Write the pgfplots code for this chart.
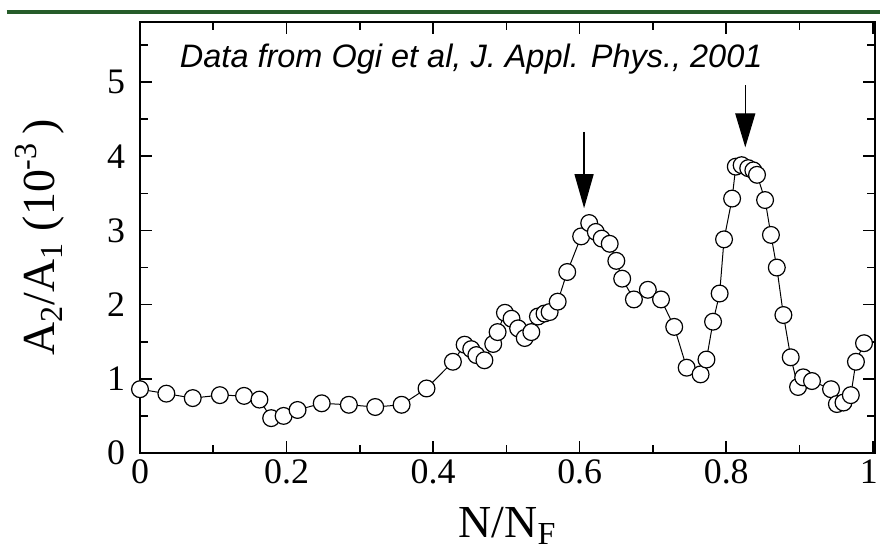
\documentclass[border=0pt]{standalone}
\usepackage{fontspec}
\setmainfont{Liberation Serif}
\newfontfamily\arial{Liberation Sans}
\usepackage{pgfplots}
\pgfplotsset{compat=1.18}
\usetikzlibrary{arrows.meta}
\definecolor{slidegreen}{RGB}{38,92,42}

\pgfplotstableread{
x y
0.000 0.86
0.036 0.80
0.072 0.74
0.109 0.78
0.142 0.77
0.163 0.72
0.179 0.47
0.196 0.50
0.215 0.58
0.248 0.67
0.285 0.65
0.321 0.62
0.357 0.65
0.391 0.87
0.427 1.23
0.443 1.46
0.452 1.40
0.459 1.32
0.470 1.25
0.482 1.47
0.488 1.63
0.498 1.89
0.507 1.81
0.516 1.68
0.525 1.55
0.534 1.63
0.543 1.84
0.552 1.88
0.559 1.90
0.570 2.04
0.583 2.44
0.602 2.92
0.613 3.10
0.622 2.98
0.630 2.89
0.641 2.82
0.650 2.59
0.658 2.35
0.674 2.07
0.693 2.20
0.711 2.07
0.729 1.70
0.746 1.15
0.765 1.06
0.773 1.26
0.782 1.77
0.791 2.15
0.797 2.88
0.808 3.43
0.813 3.86
0.821 3.88
0.830 3.84
0.837 3.81
0.842 3.75
0.853 3.41
0.861 2.94
0.869 2.50
0.878 1.86
0.888 1.29
0.898 0.89
0.905 1.02
0.917 0.97
0.943 0.86
0.951 0.66
0.960 0.68
0.970 0.78
0.977 1.23
0.988 1.48
}\datatable

\begin{document}
\begin{tikzpicture}
\begin{axis}[
  scale only axis, width=367.5bp, height=215.5bp,
  xmin=0, xmax=1.003, ymin=0, ymax=5.81,
  clip=false,
  axis line style={line width=1bp},
  xtick={0,0.2,0.4,0.6,0.8,1},
  xticklabels={0,0.2,0.4,0.6,0.8,\hspace*{-4bp}1},
  minor xtick={0.1,0.3,0.5,0.7,0.9},
  ytick={0,1,2,3,4,5},
  minor ytick={0.5,1.5,...,5.5},
  tick align=inside,
  major tick length=6bp, minor tick length=4bp,
  every tick/.style={line width=0.8bp, black},
  tick label style={font=\fontsize{18}{18}\selectfont},
  /pgf/number format/assume math mode=true,
  yticklabel style={xshift=-4bp},
  xlabel={N/N\textsubscript{F}},
  ylabel={A\textsubscript{2}/A\textsubscript{1} (10\textsuperscript{-3}\,)},
  label style={font=\fontsize{23}{23}\selectfont},
  xlabel style={at={(axis description cs:0.5,-0.195)}, anchor=base},
  ylabel style={at={(axis description cs:-0.136,0.5)}, anchor=center},
]
\addplot[black, line width=0.5bp, mark=*, mark size=4.2bp,
  mark options={fill=white, draw=black, line width=0.6bp, solid}]
  table[x=x, y=y] {\datatable};
\draw[black, line width=0.6bp, -{Triangle[length=17bp, width=9.5bp]}]
  (axis cs:0.606,4.33) -- (axis cs:0.606,3.30);
\draw[black, line width=0.6bp, -{Triangle[length=17bp, width=10bp]}]
  (axis cs:0.826,4.96) -- (axis cs:0.826,4.12);
\node[anchor=base west, inner sep=0pt, font=\arial\itshape\fontsize{16.3}{18}\selectfont]
  at (axis cs:0.054,5.19) {Data from Ogi et al, J. Appl. Phys., 2001};
\draw[slidegreen, line width=2bp] (axis cs:-0.182,5.94) -- (axis cs:1.012,5.94);
\coordinate (O) at (axis cs:0,0);
\end{axis}
\pgfresetboundingbox
\path ([shift={(-70bp,-51bp)}]O) rectangle ++(440bp,277.5bp);
\end{tikzpicture}
\end{document}
